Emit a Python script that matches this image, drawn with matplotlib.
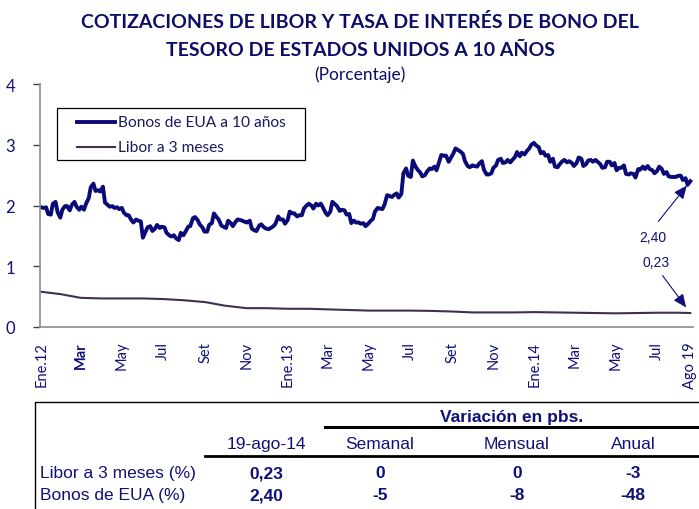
import matplotlib
matplotlib.use('Agg')
import matplotlib.pyplot as plt
import pandas as pd
from matplotlib.lines import Line2D
from matplotlib.patches import Rectangle

# ---- data -------------------------------------------------------------
# 10y treasury yield, two readings per week (Tuesday, Friday)
bond_2012 = [1.97, 1.96, 1.97, 1.86, 1.85, 2.03, 2.06, 1.89,
             1.80, 1.93, 1.99, 1.99, 1.92, 2.01, 2.06, 1.98,
             1.93, 1.98, 1.93, 2.03, 2.12, 2.30, 2.36, 2.24, 2.25, 2.23,
             2.31, 2.05, 2.01, 1.98, 1.99, 1.96, 1.97, 1.94,
             1.96, 1.88, 1.84, 1.84, 1.76, 1.72, 1.77, 1.75,
             1.74, 1.47, 1.57, 1.64, 1.66, 1.58, 1.62, 1.68, 1.63, 1.65,
             1.64, 1.55, 1.51, 1.49, 1.51, 1.46, 1.43, 1.55,
             1.51, 1.57, 1.65, 1.66, 1.79, 1.81, 1.76, 1.69, 1.64, 1.57,
             1.57, 1.68, 1.71, 1.87, 1.81, 1.77, 1.67, 1.65,
             1.63, 1.75, 1.71, 1.66, 1.73, 1.77, 1.76, 1.75,
             1.73, 1.72, 1.75, 1.62, 1.59, 1.58, 1.67, 1.69, 1.64, 1.62,
             1.61, 1.63, 1.66, 1.70, 1.82, 1.77, 1.77, 1.70]
bond_2013 = [1.76, 1.90, 1.87, 1.87, 1.82, 1.84, 1.84, 1.95,
             2.00, 2.03, 2.00, 1.95, 2.03, 2.00, 2.03, 1.97,
             1.88, 1.84, 1.90, 2.06, 2.02, 1.99, 1.91, 1.93, 1.92, 1.85,
             1.86, 1.71, 1.75, 1.72, 1.72, 1.70, 1.71, 1.66,
             1.70, 1.74, 1.78, 1.90, 1.96, 1.95, 1.94, 2.01, 2.17, 2.16,
             2.14, 2.17, 2.20, 2.13, 2.19, 2.53, 2.61, 2.49,
             2.47, 2.74, 2.64, 2.59, 2.54, 2.48, 2.50, 2.56,
             2.61, 2.60, 2.64, 2.58, 2.72, 2.83, 2.82, 2.82, 2.72, 2.78,
             2.86, 2.94, 2.91, 2.89, 2.85, 2.73, 2.65, 2.63,
             2.66, 2.65, 2.64, 2.69, 2.73, 2.59, 2.51, 2.51,
             2.53, 2.62, 2.66, 2.75, 2.77, 2.70, 2.71, 2.75, 2.71, 2.75,
             2.80, 2.88, 2.81, 2.87, 2.84, 2.89, 2.94, 3.00]
bond_2014 = [3.03, 2.99, 2.96, 2.86, 2.88, 2.82, 2.83, 2.72, 2.77, 2.64,
             2.63, 2.68, 2.73, 2.75, 2.71, 2.73, 2.70, 2.65,
             2.70, 2.79, 2.77, 2.65, 2.68, 2.74, 2.75, 2.72,
             2.75, 2.72, 2.68, 2.62, 2.63, 2.72, 2.72, 2.66,
             2.70, 2.58, 2.62, 2.62, 2.66, 2.52, 2.51, 2.53, 2.52, 2.46,
             2.60, 2.59, 2.64, 2.60, 2.65, 2.60, 2.58, 2.53,
             2.57, 2.64, 2.60, 2.52, 2.55, 2.48, 2.47, 2.47,
             2.47, 2.49, 2.49, 2.42, 2.45, 2.34,
             2.40]
bond = bond_2012 + bond_2013 + bond_2014

fridays = pd.date_range('2012-01-06', '2014-08-15', freq='W-FRI')
bond_dates = []
for f in fridays:
    bond_dates += [f - pd.Timedelta(days=3), f]
bond_dates.append(pd.Timestamp('2014-08-19'))

# 3-month libor, monthly readings
libor = [0.58, 0.54, 0.48, 0.47, 0.47, 0.47, 0.46, 0.44, 0.41, 0.35, 0.31, 0.31,
         0.30, 0.30, 0.29, 0.28, 0.27, 0.27, 0.27, 0.265, 0.255, 0.24, 0.24, 0.24,
         0.245, 0.24, 0.235, 0.23, 0.225, 0.23, 0.235, 0.235,
         0.23]
libor_dates = ([pd.Timestamp('2012-01-03')]
               + list(pd.date_range('2012-02-01', '2014-08-01', freq='MS'))
               + [pd.Timestamp('2014-08-19')])

tick_dates = ['2012-01-03', '2012-03-01', '2012-05-01', '2012-07-01', '2012-09-01',
              '2012-11-01', '2013-01-01', '2013-03-01', '2013-05-01', '2013-07-01',
              '2013-09-01', '2013-11-01', '2014-01-01', '2014-03-01', '2014-05-01',
              '2014-07-01', '2014-08-19']
tick_labels = ['Ene.12', 'Mar', 'May', 'Jul', 'Set', 'Nov', 'Ene.13', 'Mar', 'May',
               'Jul', 'Set', 'Nov', 'Ene.14', 'Mar', 'May', 'Jul', 'Ago 19']

table_cols = ['19-ago-14', 'Semanal', 'Mensual', 'Anual']
table_rows = ['Libor a 3 meses (%)', 'Bonos de EUA (%)']
table_vals = [['0,23', '0', '0', '-3'],
              ['2,40', '-5', '-8', '-48']]

assert len(bond) == len(bond_dates), (len(bond), len(bond_dates))
assert len(libor) == len(libor_dates)

# ---- style ------------------------------------------------------------
NAVY = '#10107a'
TITLE_C = '#0d0d66'
BOND_C = '#0a0a78'
LIBOR_C = '#40304f'
GRAY = '#8c8c8c'
CAL = ['Lato', 'DejaVu Sans']
NARROW = ['Liberation Sans Narrow', 'Liberation Sans', 'DejaVu Sans']

W, H = 699, 510
fig = plt.figure(figsize=(W / 100, H / 100), dpi=100)

def px(x, y):
    return x / W, 1 - y / H

# title
fig.text(*px(360, 22), 'COTIZACIONES DE LIBOR Y TASA DE INTERÉS DE BONO DEL',
         ha='center', va='center', fontsize=14, fontweight='bold', color=TITLE_C, family=CAL)
fig.text(*px(360, 50), 'TESORO DE ESTADOS UNIDOS A 10 AÑOS',
         ha='center', va='center', fontsize=14, fontweight='bold', color=TITLE_C, family=CAL)
fig.text(*px(360, 75), '(Porcentaje)', ha='center', va='center', fontsize=12.5,
         color=TITLE_C, family=CAL)

# chart
ax = fig.add_axes([40 / W, 1 - 328 / H, 653 / W, 243 / H])
ax.plot(bond_dates, bond, color=BOND_C, lw=2.8, solid_joinstyle='round')
ax.plot(libor_dates, libor, color=LIBOR_C, lw=1.5)

ax.set_ylim(0, 4)
ax.set_yticks([0, 1, 2, 3, 4])
ax.set_xlim(pd.Timestamp('2012-01-01'), pd.Timestamp('2014-08-23'))
ax.set_xticks([pd.Timestamp(d) for d in tick_dates])
ax.set_xticklabels(tick_labels, rotation=90, family=CAL, fontsize=10.5, color=NAVY)
ax.get_xticklabels()[1].set_fontweight('bold')
for lab in ax.get_yticklabels():
    lab.set_family(CAL)
ax.tick_params(axis='y', labelsize=12, labelcolor=NAVY, color='#404040', length=5, width=1, pad=13)
ax.tick_params(axis='x', length=0, pad=10)
for s in ['top', 'right']:
    ax.spines[s].set_visible(False)
for s in ['left', 'bottom']:
    ax.spines[s].set_color(GRAY)
    ax.spines[s].set_linewidth(1.2)

# legend box drawn by hand (figure pixels)
fig.patches.append(Rectangle(px(57, 161), 248 / W, 52 / H, transform=fig.transFigure,
                             fill=False, edgecolor='black', lw=0.9))
for y, c, lw, name in [(123, BOND_C, 2.8, 'Bonos de EUA a 10 años'),
                       (148, LIBOR_C, 1.5, 'Libor a 3 meses')]:
    fig.add_artist(Line2D([77 / W, 115 / W], [1 - y / H] * 2, color=c, lw=lw,
                          transform=fig.transFigure))
    fig.text(*px(118, y), name, ha='left', va='center', fontsize=11.2, color='#1a1a5e', family=CAL)

# annotations at the last points
arrow = dict(arrowstyle='-|>,head_length=0.8,head_width=0.35', color=NAVY, lw=0.8,
             shrinkA=0, shrinkB=4)
ax.annotate('', xy=(bond_dates[-1], bond[-1]), xytext=(-23, -29),
            textcoords='offset points', arrowprops=arrow)
ax.annotate('2,40', xy=(bond_dates[-1], bond[-1]), xytext=(-27, -40),
            textcoords='offset points', ha='center', va='center',
            fontsize=10, color=NAVY, family='Liberation Sans')
arrow2 = dict(arrow, shrinkB=5)
ax.annotate('', xy=(libor_dates[-1], libor[-1]), xytext=(-20, 27),
            textcoords='offset points', arrowprops=arrow2)
ax.annotate('0,23', xy=(libor_dates[-1], libor[-1]), xytext=(-25, 37),
            textcoords='offset points', ha='center', va='center',
            fontsize=10, color=NAVY, family='Liberation Sans')

# table
fig.patches.append(Rectangle(px(35, 520), (W + 10) / W, 117 / H, transform=fig.transFigure,
                             fill=False, edgecolor='black', lw=1.0))
fig.add_artist(Line2D([325 / W, 1], [1 - 428 / H] * 2, color='black', lw=2.2,
                      transform=fig.transFigure))
fig.add_artist(Line2D([205 / W, 1], [1 - 457 / H] * 2, color='black', lw=2.0,
                      transform=fig.transFigure))
fig.text(*px(512, 418), 'Variación en pbs.', ha='center', va='center', fontsize=12.5,
         fontweight='bold', color=NAVY, family=NARROW)
col_x = [266, 380, 517, 633]
for x, c in zip(col_x, table_cols):
    fig.text(*px(x, 445), c, ha='center', va='center', fontsize=12.5, color=NAVY, family=NARROW)
for y, name, vals in zip([474, 496], table_rows, table_vals):
    fig.text(*px(40, y), name, ha='left', va='center', fontsize=12.5, color=NAVY, family=NARROW)
    for x, v in zip(col_x, vals):
        fig.text(*px(x, y), v, ha='center', va='center', fontsize=12.5, fontweight='bold',
                 color=NAVY, family=NARROW)

fig.savefig('out.png', dpi=100)
